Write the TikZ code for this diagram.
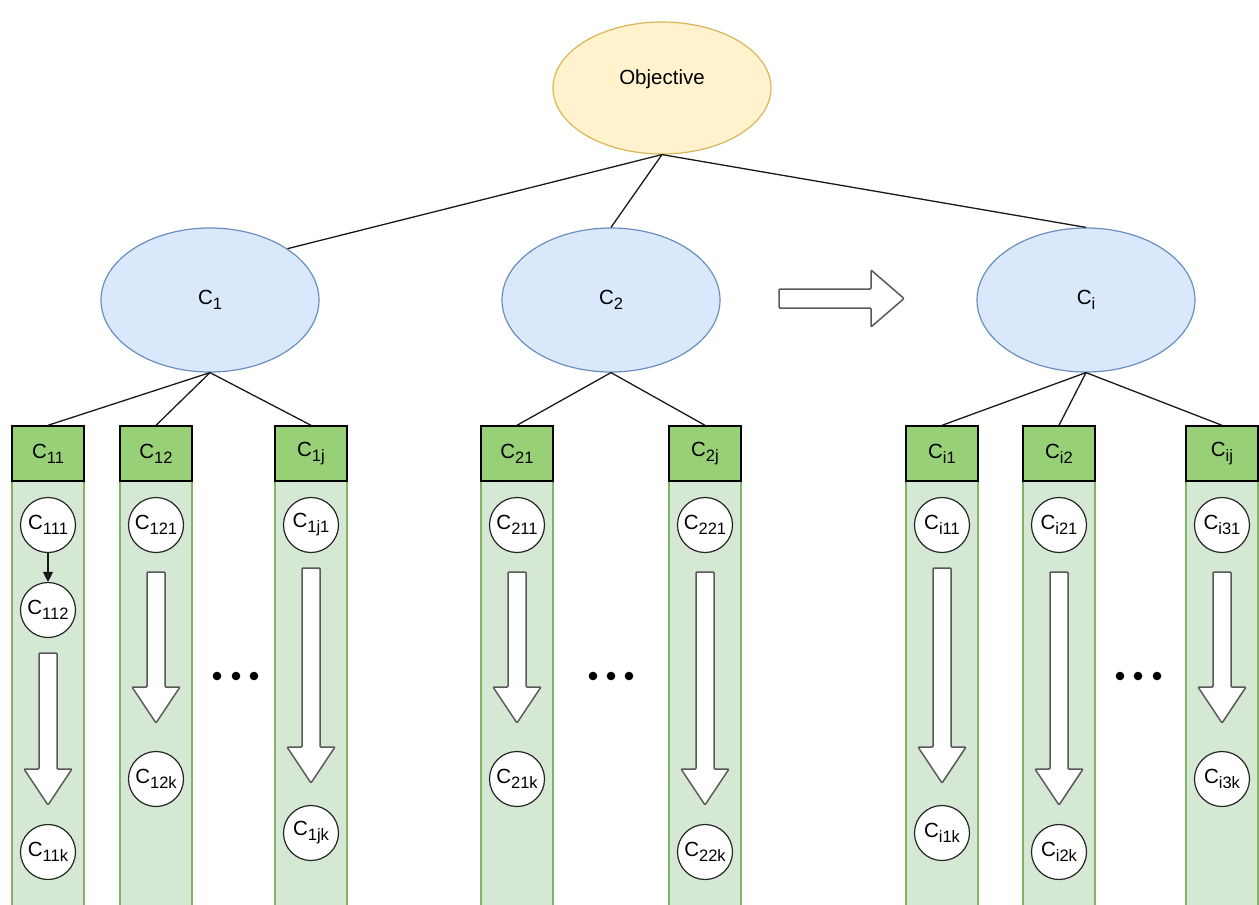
\documentclass[tikz,border=0pt]{standalone}
\usepackage{fontspec}
\setmainfont{Liberation Sans}
\usepackage{xcolor}
\usepackage{tikz}
\usetikzlibrary{shapes,positioning,arrows.meta}

\definecolor{objfill}{HTML}{FFF2CC}
\definecolor{objdraw}{HTML}{D6B656}
\definecolor{critfill}{HTML}{DAE8FC}
\definecolor{critdraw}{HTML}{6C8EBF}
\definecolor{headfill}{HTML}{97D077}
\definecolor{bodyfill}{HTML}{D5E8D4}
\definecolor{bodydraw}{HTML}{82B366}

% label C with a lowered index
\newcommand{\cidx}[1]{C\raisebox{-5pt}{\fontsize{16.5}{16.5}\selectfont #1}}
% hollow down arrow: x, top, tip
\newcommand{\downfat}[3]{%
  \draw[fat] (#1-9,#2) -- (#1+9,#2) -- (#1+9,#3-36) -- (#1+24,#3-36) -- (#1,#3)
    -- (#1-24,#3-36) -- (#1-9,#3-36) -- cycle;}
% column body under a header
\newcommand{\colbody}[1]{%
  \draw[fill=bodyfill, draw=bodydraw, line width=1.2pt] (#1-36,481) rectangle (#1+36,915);}

\tikzset{
  goal/.style={ellipse, draw=objdraw, fill=objfill, line width=1.2pt,
    minimum width=218pt, minimum height=132pt, inner sep=0pt},
  crit/.style={ellipse, draw=critdraw, fill=critfill, line width=1.2pt,
    minimum width=218pt, minimum height=144pt, inner sep=0pt},
  head/.style={rectangle, draw=black, fill=headfill, line width=1.4pt,
    minimum width=72pt, minimum height=55pt, inner sep=0pt},
  alt/.style={circle, draw=black!85, fill=white, line width=1.2pt,
    minimum size=55pt, inner sep=0pt},
  fat/.style={draw=black!65, fill=white, line width=1.5pt, rounded corners=1pt},
  link/.style={draw=black!90, line width=1.3pt}
}

\begin{document}
\begin{tikzpicture}[x=1pt, y=-1pt, font=\fontsize{20.5}{24}\selectfont]
    \useasboundingbox (0,0) rectangle (1259,905);

    % column bodies
    \colbody{48} \colbody{156} \colbody{311}
    \colbody{517} \colbody{705}
    \colbody{942} \colbody{1059} \colbody{1222}

    % objective and criteria
    \node[goal, label={[yshift=9pt]center:Objective}] (obj) at (662,88) {};
    \node[crit] (c1) at (210,300) {\cidx{1}};
    \node[crit] (c2) at (611,300) {\cidx{2}};
    \node[crit] (ci) at (1086,300) {\cidx{i}};

    \draw[link] (obj.south) -- (c1.north east);
    \draw[link] (obj.south) -- (c2.north);
    \draw[link] (obj.south) -- (ci.north);

    % sub-criteria headers
    \node[head] (c11) at (48,453.5) {\cidx{11}};
    \node[head] (c12) at (156,453.5) {\cidx{12}};
    \node[head] (c1j) at (311,453.5) {\cidx{1j}};
    \node[head] (c21) at (517,453.5) {\cidx{21}};
    \node[head] (c2j) at (705,453.5) {\cidx{2j}};
    \node[head] (ci1) at (942,453.5) {\cidx{i1}};
    \node[head] (ci2) at (1059,453.5) {\cidx{i2}};
    \node[head] (cij) at (1222,453.5) {\cidx{ij}};

    \draw[link] (c1.south) -- (c11.north);
    \draw[link] (c1.south) -- (c12.north);
    \draw[link] (c1.south) -- (c1j.north);
    \draw[link] (c2.south) -- (c21.north);
    \draw[link] (c2.south) -- (c2j.north);
    \draw[link] (ci.south) -- (ci1.north);
    \draw[link] (ci.south) -- (ci2.north);
    \draw[link] (ci.south) -- (cij.north);

    % alternatives
    \node[alt] (c111) at (48,525) {\cidx{111}};
    \node[alt] (c112) at (48,610) {\cidx{112}};
    \node[alt] (c11k) at (48,852) {\cidx{11k}};
    \node[alt] (c121) at (156,525) {\cidx{121}};
    \node[alt] (c12k) at (156,779) {\cidx{12k}};
    \node[alt] (c1j1) at (311,525) {\cidx{1j1}};
    \node[alt] (c1jk) at (311,833) {\cidx{1jk}};
    \node[alt] (c211) at (517,525) {\cidx{211}};
    \node[alt] (c21k) at (517,779) {\cidx{21k}};
    \node[alt] (c221) at (705,525) {\cidx{221}};
    \node[alt] (c22k) at (705,852) {\cidx{22k}};
    \node[alt] (ci11) at (942,525) {\cidx{i11}};
    \node[alt] (ci1k) at (942,833) {\cidx{i1k}};
    \node[alt] (ci21) at (1059,525) {\cidx{i21}};
    \node[alt] (ci2k) at (1059,852) {\cidx{i2k}};
    \node[alt] (ci31) at (1222,525) {\cidx{i31}};
    \node[alt] (ci3k) at (1222,779) {\cidx{i3k}};

    \draw[link, -{Triangle[length=10pt, width=10pt]}] (c111) -- (c112);

    % hollow arrows
    \downfat{48}{653}{805}
    \downfat{156}{572}{723}
    \downfat{311}{568}{783}
    \downfat{517}{572}{723}
    \downfat{705}{572}{805}
    \downfat{942}{568}{783}
    \downfat{1059}{572}{805}
    \downfat{1222}{572}{723}
    \draw[fat] (779,289) -- (871,289) -- (871,270) -- (904,298.5)
        -- (871,327) -- (871,308) -- (779,308) -- cycle;

    % ellipsis dots
    \foreach \x in {217,236,254,593,611,629,1120,1138,1157}
        \fill (\x,676) circle (4.3);
\end{tikzpicture}
\end{document}
